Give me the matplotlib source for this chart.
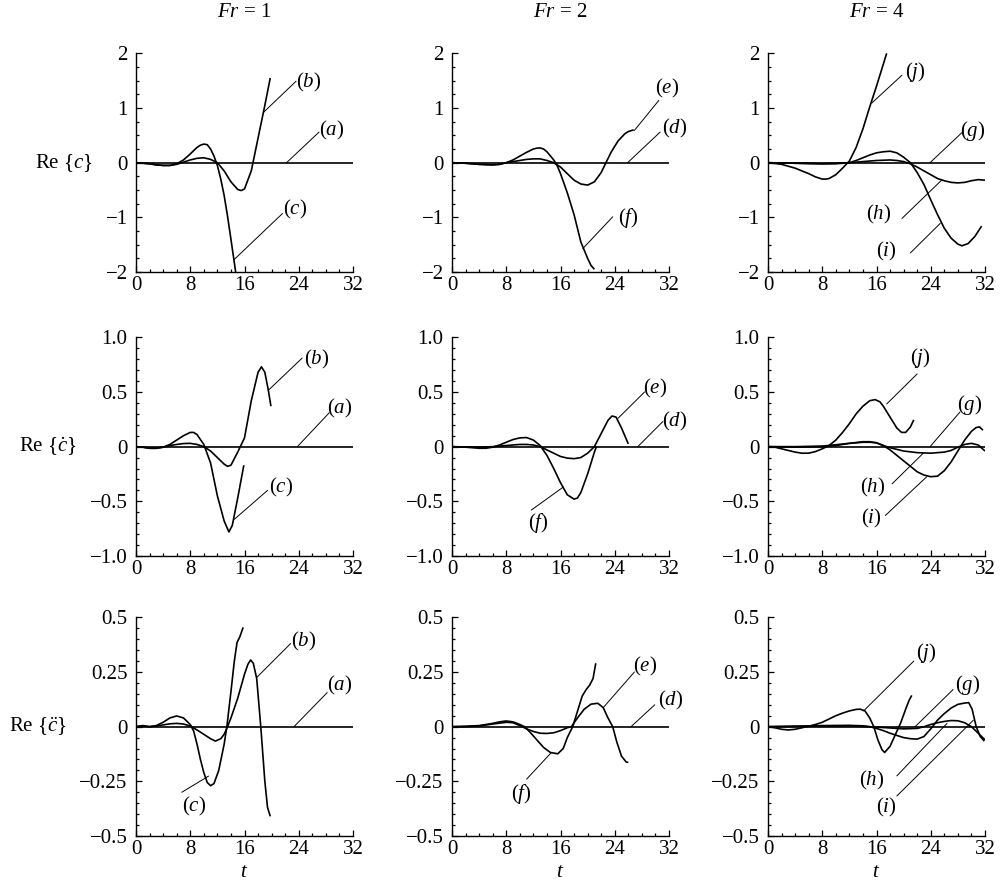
import matplotlib
matplotlib.use("Agg")
import matplotlib.pyplot as plt
from matplotlib.ticker import MultipleLocator, FixedLocator, FixedFormatter

# ---- data ----
base_t = [0, 32]
base_v = [0, 0]

# Re{c}, Fr = 1
c_b_t = [0, 1, 2, 3, 4, 5, 6, 7, 8, 9, 10, 11, 12, 13, 14, 15, 15.5, 16, 17, 18, 19, 19.8]
c_b = [0, -0.01, -0.02, -0.04, -0.05, -0.05, -0.03, 0.01, 0.05, 0.08, 0.09, 0.06, 0.0, -0.15, -0.35,
       -0.49, -0.51, -0.48, -0.15, 0.45, 1.05, 1.55]
c_c_t = [0, 1, 2, 3, 4, 5, 6, 7, 8, 9, 9.5, 10, 10.5, 11, 11.5, 12, 12.5, 13, 13.5, 14, 14.7]
c_c = [0, -0.01, -0.02, -0.04, -0.05, -0.05, -0.02, 0.05, 0.16, 0.28, 0.32, 0.34, 0.33, 0.25, 0.12, -0.05,
       -0.3, -0.6, -0.98, -1.4, -2.0]
# Re{c}, Fr = 2
c_e_t = [0, 2, 4, 6, 7, 8, 9, 10, 11, 12, 13, 14, 15, 16, 17, 18, 19, 20, 21, 22, 22.7, 23.5, 24.5, 25.5, 26, 26.8]
c_e = [0, -0.01, -0.03, -0.04, -0.03, 0.0, 0.02, 0.04, 0.06, 0.07, 0.07, 0.04, 0.0, -0.08, -0.2, -0.32,
       -0.39, -0.41, -0.35, -0.18, 0.0, 0.2, 0.4, 0.53, 0.57, 0.6]
c_f_t = [0, 2, 4, 6, 7, 8, 9, 10, 11, 12, 12.5, 13, 13.5, 14, 15, 15.5, 16, 17, 18, 19, 20, 20.5, 21]
c_f = [0, -0.01, -0.03, -0.04, -0.03, 0.0, 0.05, 0.12, 0.19, 0.25, 0.265, 0.27, 0.25, 0.2, 0.05, -0.05,
       -0.2, -0.55, -0.95, -1.45, -1.75, -1.88, -1.95]
# Re{c}, Fr = 4
c_j_t = [0, 2, 4, 6, 7, 8, 8.5, 9, 10, 11, 12, 13, 14, 15, 16, 17, 17.5]
c_j = [0, -0.03, -0.1, -0.2, -0.26, -0.3, -0.3, -0.29, -0.22, -0.1, 0.03, 0.28, 0.62, 1.02, 1.4, 1.8, 2.0]
c_i_t = [0, 4, 8, 10, 12, 13, 14, 15, 16, 17, 18, 19, 20, 21, 22, 23, 24, 25, 26, 27, 28, 28.6, 29.5, 30.5, 31.5]
c_i = [0, -0.01, -0.02, -0.02, 0.0, 0.04, 0.09, 0.14, 0.18, 0.2, 0.21, 0.18, 0.1, 0.0, -0.18, -0.4, -0.68,
       -0.95, -1.2, -1.38, -1.49, -1.52, -1.48, -1.35, -1.16]
c_h_t = [0, 4, 8, 12, 14, 16, 18, 19, 20, 21, 22, 23, 24, 25, 26, 27, 28, 29, 30, 31, 32]
c_h = [0, -0.01, -0.02, 0.0, 0.02, 0.04, 0.05, 0.04, 0.02, -0.02, -0.08, -0.15, -0.22, -0.29, -0.33, -0.36,
       -0.37, -0.36, -0.33, -0.31, -0.32]

# Re{c dot}, Fr = 1
dc_b_t = [0, 1, 2, 3, 4, 5, 6, 7, 8, 9, 10, 11, 12, 13, 13.5, 14, 15, 16, 17, 18, 18.5, 19, 19.5, 19.9]
dc_b = [0, -0.005, -0.015, -0.015, -0.005, 0.01, 0.02, 0.028, 0.03, 0.02, 0.0, -0.04, -0.1, -0.16, -0.18,
        -0.17, -0.05, 0.08, 0.42, 0.68, 0.73, 0.68, 0.52, 0.37]
dc_c_t = [0, 1, 2, 3, 4, 5, 6, 7, 8, 8.5, 9, 10, 11, 12, 13, 13.7, 14.2, 15, 15.9]
dc_c = [0, -0.005, -0.015, -0.015, -0.005, 0.02, 0.06, 0.1, 0.13, 0.13, 0.11, 0.02, -0.15, -0.45, -0.68,
        -0.78, -0.72, -0.47, -0.17]
# Re{c dot}, Fr = 2
dc_e_t = [0, 2, 4, 6, 8, 10, 11, 12, 13, 14, 15, 16, 17, 18, 19, 20, 21, 22, 23, 23.6, 24.2, 25, 26]
dc_e = [0, -0.003, -0.005, 0.0, 0.01, 0.02, 0.02, 0.015, 0.0, -0.03, -0.06, -0.09, -0.105, -0.11, -0.1,
        -0.06, 0.0, 0.12, 0.24, 0.28, 0.27, 0.17, 0.025]
dc_f_t = [0, 2, 4, 5, 6, 7, 8, 9, 10, 11, 12, 13, 14, 15, 16, 17, 18, 18.5, 19, 20, 21, 21.3]
dc_f = [0, -0.005, -0.015, -0.015, -0.005, 0.015, 0.04, 0.065, 0.08, 0.083, 0.06, 0.01, -0.08, -0.2, -0.33,
        -0.44, -0.48, -0.47, -0.42, -0.25, -0.05, 0.0]
# Re{c dot}, Fr = 4
dc_j_t = [0, 1, 2, 3, 4, 5, 6, 7, 8, 9, 10, 11, 12, 13, 14, 15, 15.8, 16.5, 17, 18, 19, 19.7, 20.3, 21, 21.5]
dc_j = [0, -0.005, -0.02, -0.035, -0.05, -0.06, -0.06, -0.045, -0.02, 0.01, 0.06, 0.13, 0.21, 0.3, 0.37,
        0.42, 0.43, 0.41, 0.37, 0.27, 0.17, 0.13, 0.13, 0.18, 0.245]
dc_i_t = [0, 4, 8, 10, 12, 14, 15, 16, 17, 18, 19, 20, 21, 22, 23, 24, 25, 26, 27, 28, 29, 30, 30.7, 31.2, 31.7]
dc_i = [0, -0.005, 0.0, 0.01, 0.03, 0.045, 0.045, 0.035, 0.01, -0.03, -0.08, -0.13, -0.18, -0.23, -0.26,
        -0.275, -0.27, -0.22, -0.14, -0.04, 0.06, 0.14, 0.175, 0.18, 0.15]
dc_h_t = [0, 4, 8, 12, 14, 15, 16, 17, 18, 19, 20, 22, 24, 26, 27, 28, 29, 30, 31, 32]
dc_h = [0, 0.0, 0.005, 0.03, 0.04, 0.04, 0.035, 0.01, -0.01, -0.025, -0.04, -0.055, -0.06, -0.05, -0.035,
        -0.005, 0.02, 0.03, 0.015, -0.04]

# Re{c ddot}, Fr = 1
ddc_b_t = [0, 1, 2, 3, 4, 5, 6, 7, 8, 9, 10, 11, 11.7, 12.5, 13, 13.5, 14, 15, 16, 16.5, 16.9, 17.3, 17.8,
           18.4, 19, 19.4, 19.8]
ddc_b = [0, 0.003, 0.0, 0.003, 0.008, 0.013, 0.015, 0.012, 0.003, -0.015, -0.035, -0.055, -0.066, -0.055,
         -0.035, 0.0, 0.04, 0.13, 0.24, 0.285, 0.305, 0.29, 0.22, 0.0, -0.25, -0.37, -0.41]
ddc_c_t = [0, 1, 2, 3, 4, 5, 6, 7, 8, 8.5, 9, 9.5, 10, 10.5, 11, 11.5, 12.2, 13, 13.4, 14, 14.5, 14.9, 15.3, 15.8]
ddc_c = [0, 0.005, 0.0, 0.005, 0.02, 0.04, 0.049, 0.04, 0.01, -0.02, -0.08, -0.15, -0.21, -0.255, -0.27,
         -0.26, -0.2, -0.08, 0.0, 0.16, 0.3, 0.385, 0.41, 0.454]
# Re{c ddot}, Fr = 2
ddc_e_t = [0, 2, 4, 6, 8, 9, 10, 11, 12, 13, 14, 15, 16, 17, 17.6, 18.5, 19.5, 20.5, 21.5, 22.3, 23, 23.7,
           24.3, 25, 25.7, 26]
ddc_e = [0, 0.0, 0.003, 0.012, 0.02, 0.018, 0.005, -0.01, -0.022, -0.03, -0.031, -0.028, -0.018, -0.005, 0.0,
         0.04, 0.08, 0.103, 0.107, 0.087, 0.04, 0.0, -0.07, -0.135, -0.162, -0.163]
ddc_f_t = [0, 2, 4, 6, 7, 8, 9, 10, 10.7, 11.5, 12.5, 13.5, 14.5, 15.6, 16.4, 17, 17.8, 18.5, 19.2, 19.8,
           20.3, 20.8, 21.2]
ddc_f = [0, 0.002, 0.005, 0.015, 0.022, 0.026, 0.022, 0.01, 0.0, -0.025, -0.06, -0.095, -0.118, -0.124, -0.1,
         -0.05, 0.0, 0.07, 0.14, 0.17, 0.19, 0.22, 0.29]
# Re{c ddot}, Fr = 4
ddc_j_t = [0, 1, 2, 3, 4, 5, 6, 7, 8, 9, 10, 11, 12, 13, 13.6, 14.3, 15, 15.6, 16.2, 16.8, 17.2, 18, 18.8,
           19.6, 20.3, 20.8, 21.2]
ddc_j = [0, -0.005, -0.012, -0.015, -0.012, -0.005, 0.002, 0.01, 0.02, 0.035, 0.05, 0.062, 0.072, 0.079,
         0.08, 0.072, 0.04, 0.0, -0.06, -0.105, -0.118, -0.09, -0.035, 0.02, 0.08, 0.12, 0.143]
ddc_i_t = [0, 4, 8, 12, 14, 15, 16, 17, 18, 19, 20, 21, 22, 23, 24, 25, 26, 27, 28, 29, 29.6, 30.1, 30.7,
           31.3, 31.9]
ddc_i = [0, 0.002, 0.005, 0.006, 0.004, 0.0, -0.008, -0.018, -0.03, -0.04, -0.05, -0.055, -0.057, -0.045,
         -0.01, 0.03, 0.06, 0.085, 0.102, 0.108, 0.11, 0.08, 0.0, -0.045, -0.066]
ddc_h_t = [0, 8, 12, 16, 18, 20, 22, 23, 24, 25, 26, 27, 28, 29, 30, 31, 32]
ddc_h = [0, 0.003, 0.004, -0.002, -0.006, -0.01, -0.008, 0.0, 0.01, 0.018, 0.024, 0.028, 0.027, 0.018, 0.0,
         -0.03, -0.06]

froude = [1, 2, 4]
row_labels = [r'Re {$c$}', r'Re {$\dot{c}$}', r'Re {$\ddot{c}$}']
yticks_c = [-2, -1, 0, 1, 2]
yticklabels_c = ['\u22122', '\u22121', '0', '1', '2']
yticks_dc = [-1.0, -0.5, 0, 0.5, 1.0]
yticklabels_dc = ['\u22121.0', '\u22120.5', '0', '0.5', '1.0']
yticks_ddc = [-0.5, -0.25, 0, 0.25, 0.5]
yticklabels_ddc = ['\u22120.5', '\u22120.25', '0', '0.25', '0.5']
xticks = [0, 8, 16, 24, 32]

plt.rcParams['font.family'] = ['Liberation Serif', 'DejaVu Serif']
plt.rcParams['mathtext.fontset'] = 'custom'
plt.rcParams['mathtext.rm'] = 'Liberation Serif'
plt.rcParams['mathtext.it'] = 'Liberation Serif:italic'

curves = [
    [[(base_t, base_v), (c_b_t, c_b), (c_c_t, c_c)],
     [(base_t, base_v), (c_e_t, c_e), (c_f_t, c_f)],
     [(base_t, base_v), (c_j_t, c_j), (c_i_t, c_i), (c_h_t, c_h)]],
    [[(base_t, base_v), (dc_b_t, dc_b), (dc_c_t, dc_c)],
     [(base_t, base_v), (dc_e_t, dc_e), (dc_f_t, dc_f)],
     [(base_t, base_v), (dc_j_t, dc_j), (dc_i_t, dc_i), (dc_h_t, dc_h)]],
    [[(base_t, base_v), (ddc_b_t, ddc_b), (ddc_c_t, ddc_c)],
     [(base_t, base_v), (ddc_e_t, ddc_e), (ddc_f_t, ddc_f)],
     [(base_t, base_v), (ddc_j_t, ddc_j), (ddc_i_t, ddc_i), (ddc_h_t, ddc_h)]],
]

# label text position, leader start (text side), leader end (curve side)
labels = [
    [[('b', (25.5, 1.47), (23.6, 1.49), (18.8, 0.92)),
      ('a', (28.9, 0.59), (27.0, 0.56), (22.2, 0.0)),
      ('c', (23.4, -0.85), (21.6, -0.93), (14.4, -1.78))],
     [('e', (31.7, 1.36), (30.5, 1.14), (26.9, 0.59)),
      ('d', (32.8, 0.63), (30.7, 0.56), (25.9, 0.0)),
      ('f', (26.0, -1.01), (23.7, -0.99), (19.3, -1.57))],
     [('j', (21.8, 1.66), (19.75, 1.6), (15.3, 1.09)),
      ('g', (30.2, 0.585), (28.6, 0.55), (23.9, 0.0)),
      ('h', (16.3, -0.95), (19.75, -1.02), (25.6, -0.32)),
      ('i', (17.4, -1.63), (21.0, -1.65), (25.4, -1.11))]],
    [[('b', (26.6, 0.795), (24.5, 0.81), (19.6, 0.52)),
      ('a', (30.0, 0.35), (28.5, 0.31), (23.8, 0.0)),
      ('c', (21.4, -0.37), (19.4, -0.4), (14.4, -0.67))],
     [('e', (30.0, 0.535), (28.4, 0.5), (24.5, 0.26)),
      ('d', (32.9, 0.23), (31.1, 0.23), (27.4, 0.0)),
      ('f', (12.8, -0.7), (11.7, -0.58), (16.4, -0.37))],
     [('j', (22.4, 0.81), (22.0, 0.665), (17.5, 0.39)),
      ('g', (29.7, 0.38), (28.3, 0.316), (23.9, 0.0)),
      ('h', (15.5, -0.37), (18.3, -0.34), (22.9, -0.06)),
      ('i', (15.3, -0.66), (17.3, -0.63), (23.4, -0.276))]],
    [[('b', (24.8, 0.39), (22.8, 0.38), (17.8, 0.225)),
      ('a', (30.0, 0.187), (28.2, 0.156), (23.3, 0.0)),
      ('c', (8.5, -0.364), (6.75, -0.3), (10.7, -0.226))],
     [('e', (28.5, 0.275), (26.9, 0.25), (22.3, 0.087)),
      ('d', (32.2, 0.118), (29.9, 0.1), (26.4, 0.0)),
      ('f', (10.2, -0.31), (11.0, -0.24), (14.6, -0.12))],
     [('j', (23.3, 0.337), (21.5, 0.3), (14.1, 0.072)),
      ('g', (29.4, 0.19), (27.3, 0.17), (21.7, 0.0)),
      ('h', (15.3, -0.245), (19.0, -0.225), (26.4, 0.015)),
      ('i', (17.5, -0.37), (19.0, -0.317), (30.3, 0.03))]],
]

row_ticks = [(yticks_c, yticklabels_c, 0.25), (yticks_dc, yticklabels_dc, 0.1),
             (yticks_ddc, yticklabels_ddc, 0.05)]
lefts = [0.136, 0.452, 0.768]
bottoms = [0.694, 0.3746, 0.0596]
W, H = 0.217, 0.246
FS = 15

fig = plt.figure(figsize=(10, 8.89), dpi=100)

for r in range(3):
    ticks, ticklabels, minor = row_ticks[r]
    for k in range(3):
        ax = fig.add_axes([lefts[k], bottoms[r], W, H])
        for t, v in curves[r][k]:
            ax.plot(t, v, color='black', lw=1.2, solid_capstyle='butt', solid_joinstyle='round')
        for name, txt, p0, p1 in labels[r][k]:
            ax.annotate('', xy=p1, xytext=p0,
                        arrowprops=dict(arrowstyle='-', lw=0.7, color='black',
                                        shrinkA=0, shrinkB=0))
            ax.text(txt[0], txt[1], '($%s$)' % name, fontsize=FS,
                    ha='center', va='center', clip_on=False)

        ax.set_xlim(0, 32)
        ax.set_ylim(ticks[0], ticks[-1])
        ax.spines['top'].set_visible(False)
        ax.spines['right'].set_visible(False)
        for s in ('left', 'bottom'):
            ax.spines[s].set_linewidth(1.0)
        ax.xaxis.set_major_locator(FixedLocator(xticks))
        ax.xaxis.set_minor_locator(MultipleLocator(2))
        ax.yaxis.set_major_locator(FixedLocator(ticks))
        ax.yaxis.set_major_formatter(FixedFormatter(ticklabels))
        ax.yaxis.set_minor_locator(MultipleLocator(minor))
        ax.tick_params(which='both', direction='in', top=False, right=False,
                       labelsize=FS, width=0.9)
        ax.tick_params(which='major', length=4.5)
        ax.tick_params(which='minor', length=2.4)
        ax.tick_params(axis='y', pad=6)
        ax.tick_params(axis='x', pad=3)

        if k == 0:
            ax.set_ylabel(row_labels[r], rotation=0, ha='right', va='center',
                          fontsize=FS, labelpad=9)
        if r == 0:
            ax.set_title(r'$Fr$ = %d' % froude[k], fontsize=FS, pad=26)
        if r == 2:
            ax.set_xlabel(r'$t$', fontsize=FS, labelpad=3)

fig.savefig('out.png', dpi=100)
